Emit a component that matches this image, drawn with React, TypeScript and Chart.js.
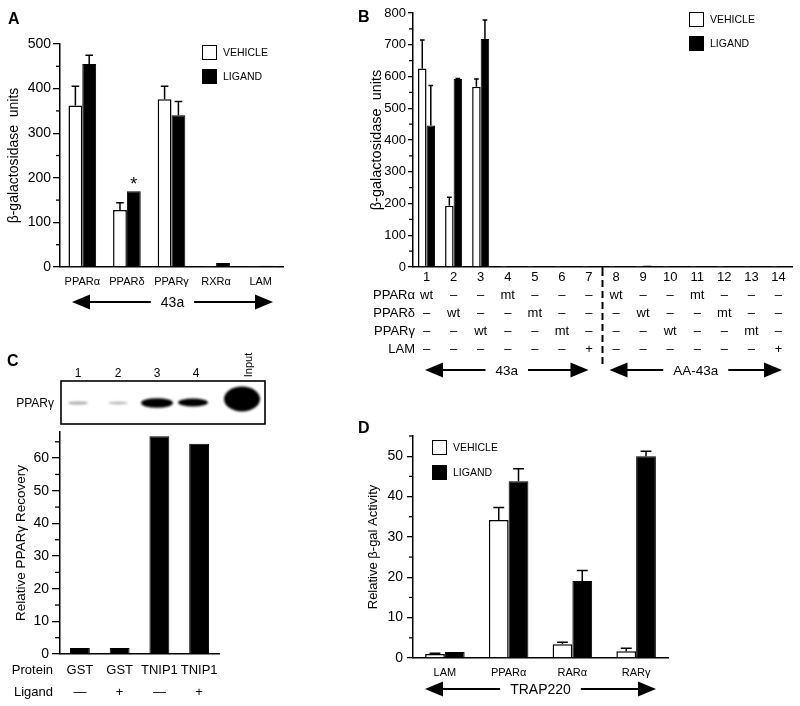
import React, { useEffect, useRef } from 'react';
import { Chart, registerables } from 'chart.js';

Chart.register(...registerables);

const FONT = '"Liberation Sans", Arial, Helvetica, sans-serif';

// ---------------- Panel A ----------------
const categoriesA = ['PPARα', 'PPARδ', 'PPARγ', 'RXRα', 'LAM'];
const vehicleA = [362, 128, 376, 1, 1];
const vehicleErrA = [43, 16, 29, 0, 0];
const ligandA = [455, 170, 340, 9, 3];
const ligandErrA = [20, 0, 31, 0, 0];
const yTicksA = [0, 100, 200, 300, 400, 500];
const yMaxA = 500;
const starIndexA = 1;
const groupA = '43a';

// ---------------- Panel B ----------------
const lanesB = ['1', '2', '3', '4', '5', '6', '7', '8', '9', '10', '11', '12', '13', '14'];
const vehicleB = [625, 193, 568, 1, 1, 1, 1, 1, 1, 1, 1, 1, 1, 1];
const vehicleErrB = [90, 27, 24, 0, 0, 0, 0, 0, 0, 0, 0, 0, 0, 0];
const ligandB = [446, 592, 718, 3, 3, 3, 2, 2, 5, 2, 3, 3, 3, 2];
const ligandErrB = [126, 2, 60, 0, 0, 0, 0, 0, 0, 0, 0, 0, 0, 0];
const yTicksB = [0, 100, 200, 300, 400, 500, 600, 700, 800];
const yMaxB = 800;
const rowLabelsB = ['PPARα', 'PPARδ', 'PPARγ', 'LAM'];
const pparAlphaB = ['wt', '–', '–', 'mt', '–', '–', '–', 'wt', '–', '–', 'mt', '–', '–', '–'];
const pparDeltaB = ['–', 'wt', '–', '–', 'mt', '–', '–', '–', 'wt', '–', '–', 'mt', '–', '–'];
const pparGammaB = ['–', '–', 'wt', '–', '–', 'mt', '–', '–', '–', 'wt', '–', '–', 'mt', '–'];
const lamB = ['–', '–', '–', '–', '–', '–', '+', '–', '–', '–', '–', '–', '–', '+'];
const groupsB = ['43a', 'AA-43a'];

// ---------------- Panel C ----------------
const proteinsC = ['GST', 'GST', 'TNIP1', 'TNIP1'];
const ligandsC = ['—', '+', '—', '+'];
const recoveryC = [1.8, 1.8, 66.7, 64.4];
const yTicksC = [0, 10, 20, 30, 40, 50, 60];
const yMaxC = 68;
const gelLanesC = ['1', '2', '3', '4'];
const rowLabelsC = ['Protein', 'Ligand'];

// ---------------- Panel D ----------------
const categoriesD = ['LAM', 'PPARα', 'RARα', 'RARγ'];
const vehicleD = [1.0, 34.2, 3.4, 1.7];
const vehicleErrD = [0.2, 3.1, 0.5, 0.7];
const ligandD = [1.5, 43.8, 19.1, 50.0];
const ligandErrD = [0, 3.1, 2.6, 1.2];
const yTicksD = [0, 10, 20, 30, 40, 50];
const yMaxD = 55;
const groupD = 'TRAP220';

const seriesNames = ['VEHICLE', 'LIGAND'];

// ---------------- helpers ----------------
function minorOf(ticks: number[], max: number) {
  const out: number[] = [];
  for (let i = 0; i < ticks.length - 1; i++) out.push((ticks[i] + ticks[i + 1]) / 2);
  const step = ticks[1] - ticks[0];
  const last = ticks[ticks.length - 1];
  if (last + step / 2 <= max + 1e-9 && max > last) out.push(last + step / 2);
  return out;
}

const errorBarsPlugin = {
  id: 'errorBars',
  afterDatasetsDraw(chart: any) {
    const ctx = chart.ctx;
    const ys = chart.scales.y;
    chart.data.datasets.forEach((ds: any, di: number) => {
      if (!ds.errors) return;
      const meta = chart.getDatasetMeta(di);
      meta.data.forEach((bar: any, i: number) => {
        const e = ds.errors[i];
        if (!e) return;
        const top = ys.getPixelForValue(ds.data[i] + e);
        const x = bar.x;
        const w = bar.width * 0.55;
        ctx.save();
        ctx.strokeStyle = '#000';
        ctx.lineWidth = 1.5;
        ctx.beginPath();
        ctx.moveTo(x, bar.y);
        ctx.lineTo(x, top);
        ctx.moveTo(x - w / 2, top);
        ctx.lineTo(x + w / 2, top);
        ctx.stroke();
        ctx.restore();
      });
    });
  },
};

function minorTicksPlugin(values: number[], len: number) {
  return {
    id: 'minorTicks',
    afterDraw(chart: any) {
      const s = chart.scales.y;
      const ctx = chart.ctx;
      ctx.save();
      ctx.strokeStyle = '#000';
      ctx.lineWidth = 1.3;
      values.forEach((v) => {
        const py = s.getPixelForValue(v);
        ctx.beginPath();
        ctx.moveTo(s.right - len, py);
        ctx.lineTo(s.right, py);
        ctx.stroke();
      });
      ctx.restore();
    },
  };
}

function drawArrow(ctx: any, x1: number, x2: number, y: number, text: string, size: number) {
  ctx.save();
  ctx.font = `${size}px ${FONT}`;
  const tw = ctx.measureText(text).width;
  const cx = (x1 + x2) / 2;
  const gap = 10;
  const head = 18;
  const hh = 7.5;
  ctx.strokeStyle = '#000';
  ctx.fillStyle = '#000';
  ctx.lineWidth = 2;
  ctx.beginPath();
  ctx.moveTo(x1 + head - 1, y);
  ctx.lineTo(cx - tw / 2 - gap, y);
  ctx.moveTo(cx + tw / 2 + gap, y);
  ctx.lineTo(x2 - head + 1, y);
  ctx.stroke();
  ctx.beginPath();
  ctx.moveTo(x1, y);
  ctx.lineTo(x1 + head, y - hh);
  ctx.lineTo(x1 + head, y + hh);
  ctx.closePath();
  ctx.fill();
  ctx.beginPath();
  ctx.moveTo(x2, y);
  ctx.lineTo(x2 - head, y - hh);
  ctx.lineTo(x2 - head, y + hh);
  ctx.closePath();
  ctx.fill();
  ctx.textAlign = 'center';
  ctx.textBaseline = 'middle';
  ctx.fillText(text, cx, y + 1);
  ctx.restore();
}

function baseOptions(p: any) {
  return {
    responsive: false,
    maintainAspectRatio: false,
    animation: false,
    devicePixelRatio: 1,
    events: [],
    layout: { padding: { left: 0, top: p.padTop, right: p.padRight, bottom: 0 } },
    plugins: { legend: { display: false }, tooltip: { enabled: false }, title: { display: false } },
    scales: {
      x: {
        type: 'category',
        offset: true,
        grid: { display: false, drawTicks: false, tickLength: 0 },
        border: { display: true, color: '#000', width: 1.5 },
        ticks: {
          color: '#000',
          font: { family: FONT, size: p.xFont, lineHeight: p.xLineHeight || 1.2 },
          padding: p.xPad,
          maxRotation: 0,
          minRotation: 0,
          autoSkip: false,
        },
        afterFit: (s: any) => {
          s.height = p.xHeight;
        },
      },
      y: {
        type: 'linear',
        min: 0,
        max: p.yMax,
        afterBuildTicks: (s: any) => {
          s.ticks = p.yTicks.map((v: number) => ({ value: v }));
        },
        grid: {
          display: true,
          drawOnChartArea: false,
          drawTicks: true,
          tickLength: p.tickLen,
          color: '#000',
          lineWidth: 1.3,
        },
        border: { display: true, color: '#000', width: 1.5 },
        ticks: { color: '#000', font: { family: FONT, size: p.tickFont }, padding: p.tickPad },
        title: {
          display: true,
          text: p.title,
          color: '#000',
          font: { family: FONT, size: p.titleFont },
          padding: { top: p.titlePad, bottom: 0 },
        },
        afterFit: (s: any) => {
          s.width = p.yWidth;
        },
      },
    },
  };
}

function pairDatasets(veh: number[], vehErr: number[], lig: number[], ligErr: number[], catPct: number) {
  return [
    {
      label: seriesNames[0],
      data: veh,
      errors: vehErr,
      backgroundColor: '#fff',
      borderColor: '#000',
      borderWidth: 1.5,
      categoryPercentage: catPct,
      barPercentage: 1,
    },
    {
      label: seriesNames[1],
      data: lig,
      errors: ligErr,
      backgroundColor: '#000',
      borderColor: '#000',
      borderWidth: 1,
      categoryPercentage: catPct,
      barPercentage: 1,
    },
  ];
}

// ---------------- configs ----------------
function configA() {
  const starPlugin = {
    id: 'star',
    afterDatasetsDraw(chart: any) {
      const bar = chart.getDatasetMeta(1).data[starIndexA];
      const ctx = chart.ctx;
      ctx.save();
      ctx.fillStyle = '#000';
      ctx.font = `18px ${FONT}`;
      ctx.textAlign = 'center';
      ctx.textBaseline = 'middle';
      ctx.fillText('*', bar.x, bar.y - 6);
      ctx.restore();
    },
  };
  const arrowPlugin = {
    id: 'arrowA',
    afterDraw(chart: any) {
      const a = chart.chartArea;
      drawArrow(chart.ctx, a.left + 12, a.right - 10, a.bottom + 35, groupA, 14);
    },
  };
  return {
    type: 'bar',
    data: { labels: categoriesA, datasets: pairDatasets(vehicleA, vehicleErrA, ligandA, ligandErrA, 0.62) },
    options: baseOptions({
      padTop: 44, padRight: 17, yWidth: 60, xHeight: 51, yMax: yMaxA, yTicks: yTicksA,
      tickLen: 7, tickPad: 2, tickFont: 14, title: 'β-galactosidase  units', titleFont: 14, titlePad: 6,
      xFont: 11, xPad: 8,
    }),
    plugins: [errorBarsPlugin, minorTicksPlugin(minorOf(yTicksA, yMaxA), 4), starPlugin, arrowPlugin],
  };
}

function configB() {
  const LH = 18;
  const XPAD = 1;
  const tablePlugin = {
    id: 'tableB',
    afterDraw(chart: any) {
      const a = chart.chartArea;
      const xs = chart.scales.x;
      const ctx = chart.ctx;
      ctx.save();
      ctx.fillStyle = '#000';
      ctx.font = `13px ${FONT}`;
      ctx.textAlign = 'right';
      ctx.textBaseline = 'middle';
      rowLabelsB.forEach((t, i) => {
        ctx.fillText(t, a.left + 2, a.bottom + XPAD + LH / 2 + LH * (i + 1));
      });
      // divider between the two constructs
      const xd = (xs.getPixelForTick(6) + xs.getPixelForTick(7)) / 2;
      ctx.strokeStyle = '#000';
      ctx.lineWidth = 2;
      ctx.beginPath();
      ctx.moveTo(xd, a.bottom);
      ctx.lineTo(xd, a.bottom + 9);
      ctx.stroke();
      ctx.setLineDash([7, 4]);
      ctx.beginPath();
      ctx.moveTo(xd, a.bottom + 13);
      ctx.lineTo(xd, a.bottom + 100);
      ctx.stroke();
      ctx.setLineDash([]);
      ctx.restore();
      drawArrow(ctx, a.left + 12, xd - 14, a.bottom + 103, groupsB[0], 13.5);
      drawArrow(ctx, xd + 7, a.right - 10, a.bottom + 103, groupsB[1], 13.5);
    },
  };
  const labels = lanesB.map((l, i) => [l, pparAlphaB[i], pparDeltaB[i], pparGammaB[i], lamB[i]]);
  return {
    type: 'bar',
    data: { labels, datasets: pairDatasets(vehicleB, vehicleErrB, ligandB, ligandErrB, 0.63) },
    options: baseOptions({
      padTop: 13, padRight: 8, yWidth: 58, xHeight: 133, yMax: yMaxB, yTicks: yTicksB,
      tickLen: 5, tickPad: 2, tickFont: 13, title: 'β-galactosidase  units', titleFont: 14.5, titlePad: 13,
      xFont: 13, xPad: XPAD, xLineHeight: LH / 13,
    }),
    plugins: [errorBarsPlugin, minorTicksPlugin(minorOf(yTicksB, yMaxB), 4), tablePlugin],
  };
}

function configC() {
  const LH = 22;
  const XPAD = 5;
  const rowPlugin = {
    id: 'rowsC',
    afterDraw(chart: any) {
      const a = chart.chartArea;
      const ctx = chart.ctx;
      ctx.save();
      ctx.fillStyle = '#000';
      ctx.font = `13px ${FONT}`;
      ctx.textAlign = 'right';
      ctx.textBaseline = 'middle';
      rowLabelsC.forEach((t, i) => ctx.fillText(t, a.left - 7, a.bottom + XPAD + LH / 2 + LH * i));
      ctx.restore();
    },
  };
  const labels = proteinsC.map((p, i) => [p, ligandsC[i]]);
  return {
    type: 'bar',
    data: {
      labels,
      datasets: [
        {
          label: 'Relative PPARγ Recovery',
          data: recoveryC,
          backgroundColor: '#000',
          borderColor: '#000',
          borderWidth: 1,
          categoryPercentage: 0.5,
          barPercentage: 1,
        },
      ],
    },
    options: baseOptions({
      padTop: 12, padRight: 21, yWidth: 60, xHeight: 52, yMax: yMaxC, yTicks: yTicksC,
      tickLen: 8, tickPad: 3, tickFont: 14, title: 'Relative PPARγ Recovery', titleFont: 13.5, titlePad: 13,
      xFont: 13, xPad: XPAD, xLineHeight: LH / 13,
    }),
    plugins: [minorTicksPlugin(minorOf(yTicksC, yMaxC), 5), rowPlugin],
  };
}

function configD() {
  const arrowPlugin = {
    id: 'arrowD',
    afterDraw(chart: any) {
      const a = chart.chartArea;
      drawArrow(chart.ctx, a.left + 12, a.right - 12, a.bottom + 31, groupD, 14);
    },
  };
  return {
    type: 'bar',
    data: { labels: categoriesD, datasets: pairDatasets(vehicleD, vehicleErrD, ligandD, ligandErrD, 0.62) },
    options: baseOptions({
      padTop: 16, padRight: 132, yWidth: 58, xHeight: 48, yMax: yMaxD, yTicks: yTicksD,
      tickLen: 6, tickPad: 4, tickFont: 14, title: 'Relative β-gal Activity', titleFont: 13, titlePad: 10.7,
      xFont: 11, xPad: 8,
    }),
    plugins: [errorBarsPlugin, minorTicksPlugin(minorOf(yTicksD, yMaxD), 4), arrowPlugin],
  };
}

// ---------------- components ----------------
function ChartBox({ left, top, width, height, config }: any) {
  const ref = useRef<HTMLCanvasElement>(null);
  useEffect(() => {
    const chart = new Chart(ref.current as any, config() as any);
    return () => chart.destroy();
  }, []);
  return (
    <div style={{ position: 'absolute', left, top, width, height }}>
      <canvas ref={ref} width={width} height={height} style={{ display: 'block', width, height }} />
    </div>
  );
}

function Legend({ left, top, gap }: any) {
  return (
    <div style={{ position: 'absolute', left, top }}>
      {seriesNames.map((n, i) => (
        <div key={n} style={{ position: 'absolute', left: 0, top: i * gap, display: 'flex', alignItems: 'center', whiteSpace: 'nowrap' }}>
          <div
            style={{
              width: 15,
              height: 15,
              boxSizing: 'border-box',
              border: '1.5px solid #000',
              background: i === 0 ? '#fff' : '#000',
            }}
          />
          <span style={{ marginLeft: 6, fontSize: 10.5, lineHeight: '15px', color: '#000' }}>{n}</span>
        </div>
      ))}
    </div>
  );
}

function Letter({ left, top, children }: any) {
  return (
    <div style={{ position: 'absolute', left, top, fontSize: 16, fontWeight: 'bold', lineHeight: '16px', color: '#000' }}>
      {children}
    </div>
  );
}

function Gel() {
  const laneX = [78, 118, 157, 196];
  return (
    <>
      <svg style={{ position: 'absolute', left: 0, top: 0 }} width={300} height={440}>
        <defs>
          <filter id="blurS" x="-50%" y="-200%" width="200%" height="500%">
            <feGaussianBlur stdDeviation="1.2" />
          </filter>
          <filter id="blurM" x="-50%" y="-50%" width="200%" height="200%">
            <feGaussianBlur stdDeviation="1.0" />
          </filter>
        </defs>
        <rect x={61} y={381} width={204} height={43} fill="#fff" stroke="#000" strokeWidth={1.6} />
        <ellipse cx={78} cy={403} rx={10} ry={1.6} fill="#aaa" filter="url(#blurS)" />
        <ellipse cx={118} cy={403} rx={10} ry={1.5} fill="#bbb" filter="url(#blurS)" />
        <ellipse cx={157} cy={403} rx={16} ry={4.8} fill="#000" filter="url(#blurM)" />
        <ellipse cx={193} cy={402.5} rx={15} ry={4} fill="#000" filter="url(#blurM)" />
        <ellipse cx={242} cy={399} rx={18} ry={12.5} fill="#000" filter="url(#blurM)" />
      </svg>
      {gelLanesC.map((l, i) => (
        <div
          key={l}
          style={{
            position: 'absolute',
            left: laneX[i] - 10,
            width: 20,
            top: 366,
            textAlign: 'center',
            fontSize: 12,
            lineHeight: '14px',
            color: '#000',
          }}
        >
          {l}
        </div>
      ))}
      <div
        style={{
          position: 'absolute',
          left: 248 - 20,
          top: 365 - 7,
          width: 40,
          textAlign: 'center',
          fontSize: 11,
          lineHeight: '14px',
          color: '#000',
          transform: 'rotate(-90deg)',
        }}
      >
        Input
      </div>
      <div style={{ position: 'absolute', left: 0, width: 54, top: 395, textAlign: 'right', fontSize: 12, lineHeight: '16px', color: '#000' }}>
        PPARγ
      </div>
    </>
  );
}

export default function App() {
  return (
    <div
      style={{
        position: 'absolute',
        left: 0,
        top: 0,
        width: 800,
        height: 706,
        background: '#fff',
        fontFamily: FONT,
        color: '#000',
        overflow: 'hidden',
      }}
    >
      <ChartBox left={0} top={0} width={300} height={318} config={configA} />
      <ChartBox left={355} top={0} width={445} height={400} config={configB} />
      <ChartBox left={0} top={420} width={240} height={286} config={configC} />
      <ChartBox left={355} top={420} width={445} height={286} config={configD} />
      <Gel />
      <Legend left={202} top={45} gap={24} />
      <Legend left={689} top={12} gap={24} />
      <Legend left={432} top={440} gap={25} />
      <Letter left={8} top={11}>A</Letter>
      <Letter left={358} top={9}>B</Letter>
      <Letter left={7} top={353}>C</Letter>
      <Letter left={358} top={420}>D</Letter>
    </div>
  );
}
